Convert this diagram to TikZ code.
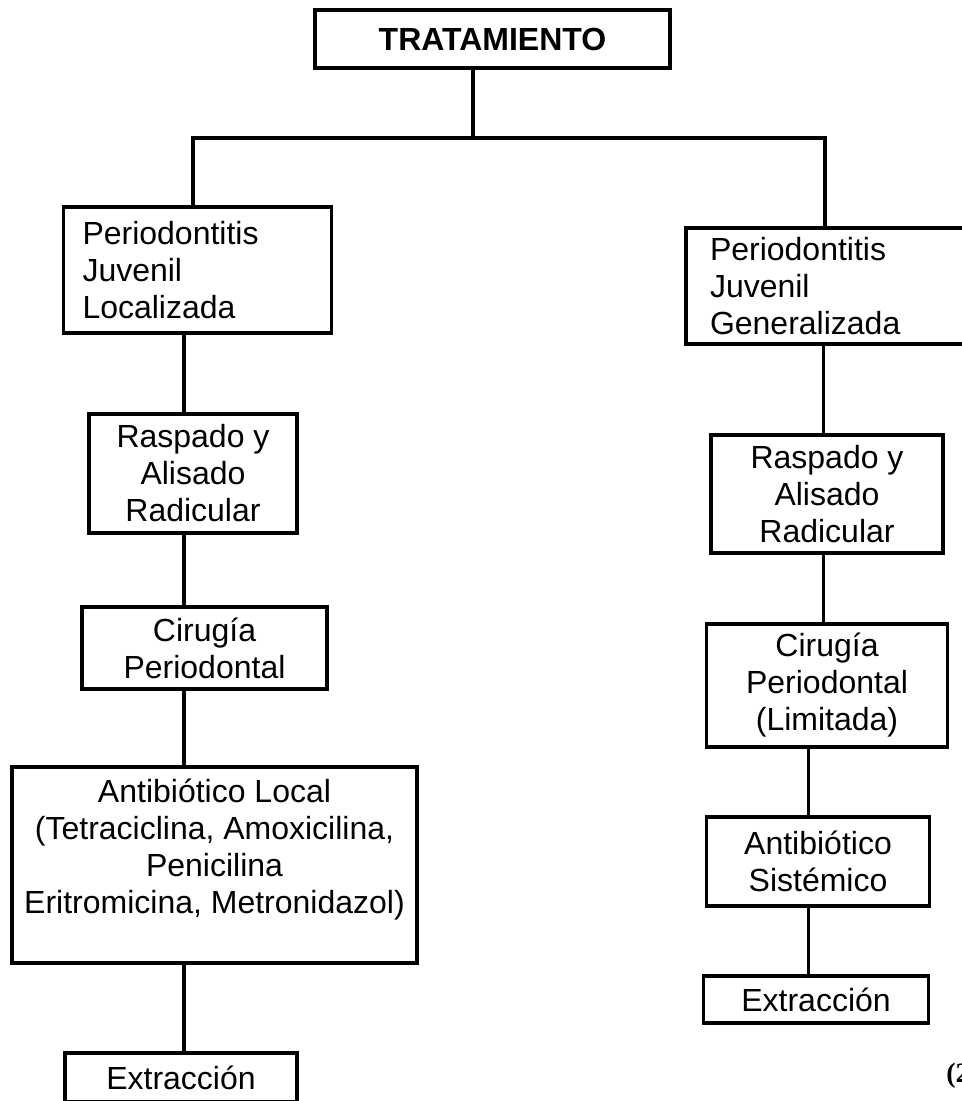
\documentclass[tikz,border=0pt]{standalone}
\usepackage{fontspec}
\setmainfont{Liberation Sans}
\newfontfamily\serifnum{Liberation Serif}
\usetikzlibrary{positioning}

\begin{document}
\begin{tikzpicture}[
    box/.style={draw, line width=1.7pt, outer sep=0pt, inner xsep=4pt, inner ysep=3pt, align=center, font=\fontsize{16pt}{18.5pt}\selectfont},
    leftbox/.style={box, align=left, text width=115pt},
    link/.style={line width=1.7pt}
]
\useasboundingbox (0pt,0pt) rectangle (481pt,-550.5pt);

\node[box, minimum width=177.5pt, minimum height=29pt, font=\fontsize{16pt}{18.5pt}\selectfont\bfseries] (trat) at (246.25pt,-19.5pt) {TRATAMIENTO};

% rama localizada
\node[leftbox, inner xsep=9.5pt, minimum height=63pt] (pjl) at (98.75pt,-135pt) {Periodontitis\\Juvenil\\Localizada};
\node[box, minimum width=104pt, minimum height=59.5pt, below=40.5pt of pjl, xshift=-2.25pt] (rasl) {Raspado y\\Alisado\\Radicular};
\node[box, minimum width=122.5pt, minimum height=41pt, below=37pt of rasl, xshift=5.75pt] (cirl) {Cirugía\\Periodontal};
\node[box, minimum width=202.5pt, minimum height=98pt, below=39pt of cirl, xshift=5pt] (antl) {Antibiótico Local\\(Tetraciclina, Amoxicilina,\\Penicilina\\Eritromicina, Metronidazol)\\~};
\node[box, minimum width=116pt, minimum height=24.5pt, below=45pt of antl, xshift=-16.75pt] (extl) {Extracción};

% rama generalizada
\node[leftbox, inner xsep=12pt, minimum height=58pt] (pjg) at (412.5pt,-143pt) {Periodontitis\\Juvenil\\Generalizada};
\node[box, minimum width=116pt, minimum height=59pt, below=45.5pt of pjg, xshift=1pt] (rasg) {Raspado y\\Alisado\\Radicular};
\node[box, minimum width=120.5pt, minimum height=61.5pt, below=35.5pt of rasg] (cirg) {Cirugía\\Periodontal\\(Limitada)};
\node[box, minimum width=111.5pt, minimum height=44.5pt, below=35pt of cirg, xshift=-4.5pt] (antg) {Antibiótico\\Sistémico};
\node[box, minimum width=112.5pt, minimum height=23.5pt, below=35pt of antg, xshift=-1pt] (extg) {Extracción};

\node[anchor=west, inner sep=0pt, font=\serifnum\fontsize{14pt}{16pt}\selectfont\bfseries] (ref) at (473pt,-538pt) {(2};

\coordinate (stem) at (236.5pt,-69pt);
\coordinate (barl) at (96.5pt,-69pt);
\coordinate (barr) at (412.5pt,-69pt);
\coordinate (lspine) at (92pt,0pt);
\coordinate (rspine) at (411.75pt,0pt);
\coordinate (rspinelow) at (404.25pt,0pt);

\draw[link] (trat.south -| stem) -- (stem);
\draw[link] (pjl.north -| barl) -- (barl) -- (barr) -- (pjg.north);
\draw[link] (pjl.south -| lspine) -- (rasl.north -| lspine);
\draw[link] (rasl.south -| lspine) -- (cirl.north -| lspine);
\draw[link] (cirl.south -| lspine) -- (antl.north -| lspine);
\draw[link] (antl.south -| lspine) -- (extl.north -| lspine);
\draw[link] (pjg.south -| rspine) -- (rasg.north -| rspine);
\draw[link] (rasg.south -| rspine) -- (cirg.north -| rspine);
\draw[link] (cirg.south -| rspinelow) -- (antg.north -| rspinelow);
\draw[link] (antg.south -| rspinelow) -- (extg.north -| rspinelow);
\end{tikzpicture}
\end{document}
